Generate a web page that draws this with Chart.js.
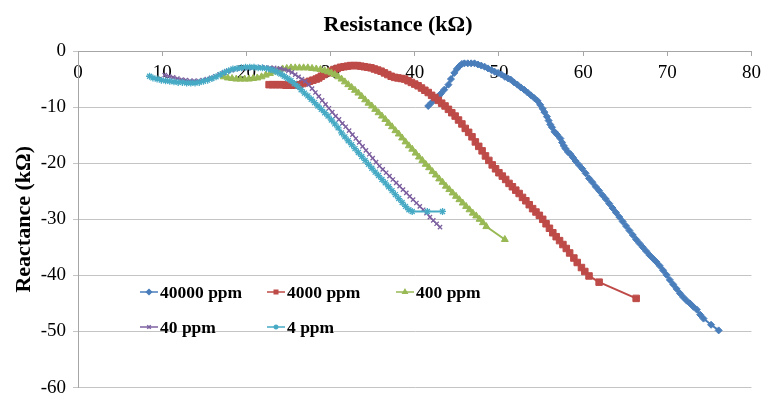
<!DOCTYPE html>
<html>
<head>
<meta charset="utf-8">
<script src="https://cdn.jsdelivr.net/npm/chart.js@4.4.1/dist/chart.umd.min.js"></script>
<style>
  html, body { margin: 0; padding: 0; background: #fff; }
</style>
</head>
<body>
<canvas id="chart-nyquist" width="768" height="406"></canvas>
<script>
const seriesLabels = ["40000 ppm", "4000 ppm", "400 ppm", "40 ppm", "4 ppm"];

// Resistance (kΩ) / Reactance (kΩ) pairs per concentration
const res40000 = [41.6, 42.0, 42.4, 42.8, 43.1, 43.5, 44.0, 44.3, 44.7, 45.0, 45.3, 45.6, 45.9, 46.3, 46.7, 47.1, 47.5, 47.9, 48.3, 48.7, 49.1, 49.5, 49.9, 50.3, 50.7, 51.1, 51.4, 51.8, 52.2, 52.6, 53.0, 53.4, 53.8, 54.2, 54.6, 54.9, 55.2, 55.4, 55.7, 55.9, 56.1, 56.3, 56.6, 56.9, 57.3, 57.5, 57.7, 57.9, 58.2, 58.5, 58.8, 59.1, 59.5, 59.9, 60.3, 60.7, 61.1, 61.5, 61.9, 62.3, 62.7, 63.1, 63.5, 63.9, 64.3, 64.7, 65.1, 65.5, 65.9, 66.3, 66.7, 67.1, 67.5, 67.9, 68.3, 68.7, 69.1, 69.5, 69.9, 70.3, 70.7, 71.1, 71.5, 71.9, 72.3, 72.7, 73.1, 73.5, 73.9, 74.3, 75.2, 76.1];
const rea40000 = [-9.8, -9.2, -8.6, -8.1, -7.6, -6.9, -6.0, -5.0, -3.9, -3.2, -2.7, -2.3, -2.2, -2.2, -2.2, -2.2, -2.4, -2.6, -2.8, -3.1, -3.4, -3.7, -3.9, -4.2, -4.6, -4.9, -5.1, -5.6, -6.0, -6.5, -6.9, -7.4, -7.9, -8.4, -8.9, -9.6, -10.3, -10.9, -11.7, -12.4, -13.1, -13.6, -14.4, -14.9, -15.6, -16.3, -16.9, -17.4, -18.0, -18.4, -19.0, -19.6, -20.3, -21.0, -21.8, -22.7, -23.4, -24.2, -24.9, -25.7, -26.4, -27.2, -28.0, -28.8, -29.6, -30.4, -31.2, -32.0, -32.8, -33.6, -34.3, -35.0, -35.7, -36.4, -37.0, -37.6, -38.3, -39.1, -39.9, -40.8, -41.6, -42.4, -43.2, -43.9, -44.5, -45.0, -45.6, -46.1, -47.0, -47.7, -48.8, -49.8];

const res4000 = [22.7, 23.1, 23.5, 23.9, 24.3, 24.7, 25.1, 25.5, 25.9, 26.3, 26.7, 27.1, 27.5, 27.9, 28.3, 28.6, 28.9, 29.2, 29.6, 30.0, 30.4, 30.8, 31.2, 31.6, 32.0, 32.4, 32.8, 33.2, 33.6, 34.0, 34.4, 34.8, 35.2, 35.6, 36.0, 36.4, 36.8, 37.2, 37.6, 38.0, 38.4, 38.8, 39.2, 39.6, 40.0, 40.4, 40.8, 41.2, 41.6, 42.0, 42.4, 42.8, 43.2, 43.6, 44.0, 44.4, 44.8, 45.2, 45.6, 46.0, 46.4, 46.8, 47.2, 47.6, 48.0, 48.4, 48.8, 49.2, 49.6, 50.0, 50.4, 50.8, 51.2, 51.6, 52.0, 52.4, 52.8, 53.2, 53.6, 54.0, 54.4, 54.8, 55.2, 55.6, 56.0, 56.4, 56.8, 57.2, 57.6, 58.0, 58.4, 58.9, 59.3, 59.8, 60.2, 60.7, 61.9, 66.3];
const rea4000 = [-6.0, -6.0, -6.0, -6.0, -6.0, -6.1, -6.1, -6.1, -6.1, -6.0, -5.8, -5.6, -5.4, -5.2, -5.0, -4.8, -4.5, -4.2, -3.9, -3.6, -3.3, -3.1, -2.9, -2.8, -2.7, -2.6, -2.6, -2.6, -2.7, -2.8, -2.9, -3.0, -3.2, -3.4, -3.6, -3.9, -4.2, -4.5, -4.7, -4.8, -4.9, -5.0, -5.3, -5.6, -5.9, -6.2, -6.6, -7.0, -7.4, -7.9, -8.3, -8.8, -9.3, -9.8, -10.4, -11.0, -11.6, -12.3, -13.0, -13.8, -14.5, -15.3, -16.2, -17.0, -17.8, -18.7, -19.5, -20.3, -21.0, -21.7, -22.3, -22.9, -23.6, -24.2, -24.8, -25.4, -26.1, -26.7, -27.4, -28.1, -28.7, -29.3, -30.0, -30.8, -31.6, -32.4, -33.1, -33.8, -34.5, -35.2, -36.0, -36.9, -37.7, -38.6, -39.3, -40.1, -41.2, -44.1];

const res400 = [17.3, 17.8, 18.3, 18.8, 19.3, 19.8, 20.3, 20.8, 21.3, 21.8, 22.3, 22.8, 23.3, 23.8, 24.3, 24.8, 25.3, 25.8, 26.3, 26.8, 27.3, 27.8, 28.3, 28.8, 29.3, 29.7, 30.1, 30.5, 30.9, 31.3, 31.7, 32.1, 32.5, 32.9, 33.3, 33.7, 34.1, 34.5, 34.9, 35.3, 35.7, 36.1, 36.5, 36.9, 37.3, 37.7, 38.1, 38.5, 38.9, 39.3, 39.7, 40.1, 40.5, 40.9, 41.3, 41.7, 42.1, 42.5, 42.9, 43.3, 43.7, 44.1, 44.5, 44.9, 45.3, 45.7, 46.1, 46.5, 46.9, 47.3, 47.7, 48.1, 48.5, 50.7];
const rea400 = [-4.6, -4.8, -4.9, -5.0, -5.0, -5.0, -5.0, -4.9, -4.8, -4.6, -4.3, -4.0, -3.7, -3.4, -3.2, -3.1, -3.0, -3.0, -3.0, -3.0, -3.0, -3.1, -3.2, -3.3, -3.5, -3.7, -3.9, -4.2, -4.6, -5.0, -5.5, -6.0, -6.5, -7.0, -7.5, -8.1, -8.7, -9.3, -9.8, -10.4, -11.0, -11.6, -12.2, -12.9, -13.5, -14.2, -14.8, -15.5, -16.2, -16.9, -17.5, -18.2, -18.9, -19.5, -20.2, -20.8, -21.5, -22.1, -22.8, -23.4, -24.1, -24.7, -25.3, -25.9, -26.5, -27.1, -27.7, -28.3, -28.9, -29.4, -30.0, -30.6, -31.3, -33.6];

const res40 = [10.3, 10.8, 11.3, 11.8, 12.3, 12.8, 13.3, 13.8, 14.3, 14.8, 15.3, 15.8, 16.3, 16.8, 17.3, 17.8, 18.3, 18.8, 19.3, 19.8, 20.3, 20.8, 21.3, 21.8, 22.3, 22.8, 23.3, 24.0, 24.5, 25.0, 25.4, 25.8, 26.2, 26.6, 27.0, 27.4, 27.8, 28.2, 28.6, 29.0, 29.4, 29.8, 30.2, 30.6, 31.0, 31.4, 31.8, 32.2, 32.6, 33.0, 33.4, 33.8, 34.2, 34.6, 35.0, 35.4, 35.8, 36.2, 36.6, 37.0, 37.4, 37.8, 38.2, 38.6, 39.0, 39.4, 39.8, 40.2, 40.6, 41.0, 41.4, 41.8, 42.2, 42.6, 43.0];
const rea40 = [-4.3, -4.5, -4.7, -4.9, -5.1, -5.2, -5.3, -5.3, -5.3, -5.2, -5.0, -4.8, -4.5, -4.2, -3.9, -3.6, -3.4, -3.2, -3.1, -3.0, -3.0, -2.9, -2.9, -2.9, -3.0, -3.0, -3.0, -3.1, -3.3, -3.5, -3.8, -4.2, -4.6, -5.0, -5.4, -6.0, -6.7, -7.4, -8.1, -8.8, -9.5, -10.2, -10.9, -11.6, -12.2, -12.9, -13.5, -14.2, -14.9, -15.6, -16.3, -17.0, -17.7, -18.4, -19.1, -19.8, -20.5, -21.1, -21.7, -22.3, -22.9, -23.5, -24.1, -24.7, -25.3, -25.9, -26.5, -27.1, -27.7, -28.3, -28.9, -29.6, -30.2, -30.8, -31.4];

const res4 = [8.5, 8.9, 9.4, 9.9, 10.4, 10.9, 11.4, 11.9, 12.4, 12.9, 13.4, 13.9, 14.4, 14.9, 15.4, 15.9, 16.4, 16.9, 17.4, 17.9, 18.4, 18.9, 19.4, 19.9, 20.4, 20.9, 21.4, 21.9, 22.4, 22.9, 23.3, 23.7, 24.1, 24.5, 24.9, 25.3, 25.7, 26.1, 26.5, 26.9, 27.3, 27.7, 28.1, 28.5, 28.9, 29.3, 29.7, 30.1, 30.5, 30.9, 31.3, 31.7, 32.1, 32.5, 32.9, 33.3, 33.7, 34.1, 34.5, 34.9, 35.3, 35.7, 36.1, 36.5, 36.9, 37.3, 37.7, 38.1, 38.5, 38.9, 39.3, 39.7, 41.5, 43.3];
const rea4 = [-4.5, -4.8, -5.0, -5.2, -5.3, -5.4, -5.5, -5.6, -5.6, -5.7, -5.7, -5.7, -5.6, -5.4, -5.2, -4.9, -4.6, -4.2, -3.8, -3.5, -3.2, -3.1, -3.0, -2.9, -2.9, -2.9, -3.0, -3.0, -3.1, -3.3, -3.5, -3.8, -4.1, -4.5, -4.9, -5.3, -5.8, -6.3, -6.9, -7.5, -8.0, -8.6, -9.2, -9.8, -10.4, -11.0, -11.6, -12.3, -13.0, -13.7, -14.6, -15.3, -16.0, -16.7, -17.4, -18.1, -18.8, -19.5, -20.2, -20.9, -21.6, -22.2, -22.9, -23.5, -24.2, -24.9, -25.6, -26.3, -27.0, -27.7, -28.3, -28.6, -28.6, -28.6];

const xTicks = { min: 0, max: 80, step: 10 };
const yTicks = { min: -60, max: 0, step: 10 };

const serif = "'Liberation Serif', 'Times New Roman', serif";

const styles = [
	{ color: "#4a7ebb", pointStyle: "rectRot", radius: 3.5, width: 2 },
	{ color: "#be4b48", pointStyle: "rect", radius: 4.6, width: 2 },
	{ color: "#98b954", pointStyle: "triangle", radius: 4, width: 2 },
	{ color: "#7d60a0", pointStyle: "crossRot", radius: 3, width: 1.5 },
	{ color: "#46aac5", pointStyle: "star", radius: 3.5, width: 2 },
];

const columns = [
	[res40000, rea40000],
	[res4000, rea4000],
	[res400, rea400],
	[res40, rea40],
	[res4, rea4],
];

const datasets = seriesLabels.map((label, i) => {
	const [xs, ys] = columns[i];
	const s = styles[i];
	return {
		label: label,
		data: xs.map((x, j) => ({ x: x, y: ys[j] })),
		borderColor: s.color,
		backgroundColor: s.color,
		borderWidth: s.width,
		pointStyle: s.pointStyle,
		pointRadius: s.radius,
		pointBorderWidth: s.pointStyle === "crossRot" || s.pointStyle === "star" ? 1.3 : 1,
		showLine: true,
		tension: 0,
		// later series sit on top
		order: seriesLabels.length - i,
	};
});

// top caption for the resistance axis
const topTitle = {
	id: "topTitle",
	afterDraw(chart) {
		const ctx = chart.ctx;
		ctx.save();
		ctx.font = "bold 22px " + serif;
		ctx.fillStyle = "#000";
		ctx.textAlign = "center";
		ctx.textBaseline = "middle";
		ctx.fillText("Resistance (kΩ)", 398, 25);
		ctx.restore();
	},
};

// legend drawn inside the plot, two rows
const innerLegend = {
	id: "innerLegend",
	afterDraw(chart) {
		const ctx = chart.ctx;
		const slots = [
			[140, 292], [267, 292], [396, 292],
			[140, 327], [267, 327],
		];
		ctx.save();
		chart.data.datasets.forEach((ds, i) => {
			const [x, y] = slots[i];
			ctx.strokeStyle = ds.borderColor;
			ctx.fillStyle = ds.borderColor;
			ctx.lineWidth = 1.5;
			ctx.beginPath();
			ctx.moveTo(x, y);
			ctx.lineTo(x + 18, y);
			ctx.stroke();
			Chart.helpers.drawPoint(ctx, {
				pointStyle: ds.pointStyle,
				radius: 2.5,
				borderWidth: 1,
				rotation: 0,
			}, x + 9, y);
			ctx.font = "bold 17.5px " + serif;
			ctx.fillStyle = "#000";
			ctx.textAlign = "left";
			ctx.textBaseline = "middle";
			ctx.fillText(ds.label, x + 20, y + 1);
		});
		ctx.restore();
	},
};

const options = {
	responsive: false,
	animation: false,
	layout: {
		padding: { top: 51, right: 13, bottom: 14, left: 0 },
	},
	plugins: {
		legend: { display: false },
		tooltip: { enabled: false },
	},
	scales: {
		x: {
			type: "linear",
			position: { y: 0 },
			min: xTicks.min,
			max: xTicks.max,
			ticks: {
				stepSize: xTicks.step,
				color: "#000",
				font: { family: serif, size: 19 },
				padding: 7,
			},
			grid: {
				drawOnChartArea: false,
				tickLength: 4,
				color: "#a6a6a6",
			},
			border: { color: "#a6a6a6" },
		},
		y: {
			type: "linear",
			min: yTicks.min,
			max: yTicks.max,
			ticks: {
				stepSize: yTicks.step,
				color: "#000",
				font: { family: serif, size: 19 },
				padding: 7,
			},
			grid: {
				color: "#c4c4c4",
				tickLength: 5,
			},
			border: { color: "#a6a6a6" },
			title: {
				display: true,
				text: "Reactance (kΩ)",
				color: "#000",
				font: { family: serif, size: 22, weight: "bold" },
				padding: { top: 11, bottom: 0 },
			},
			afterFit(scale) {
				scale.width = 78;
			},
		},
	},
};

const config = {
	type: "scatter",
	data: { datasets: datasets },
	options: options,
	plugins: [topTitle, innerLegend],
};

new Chart(document.getElementById("chart-nyquist"), config);
</script>
</body>
</html>
